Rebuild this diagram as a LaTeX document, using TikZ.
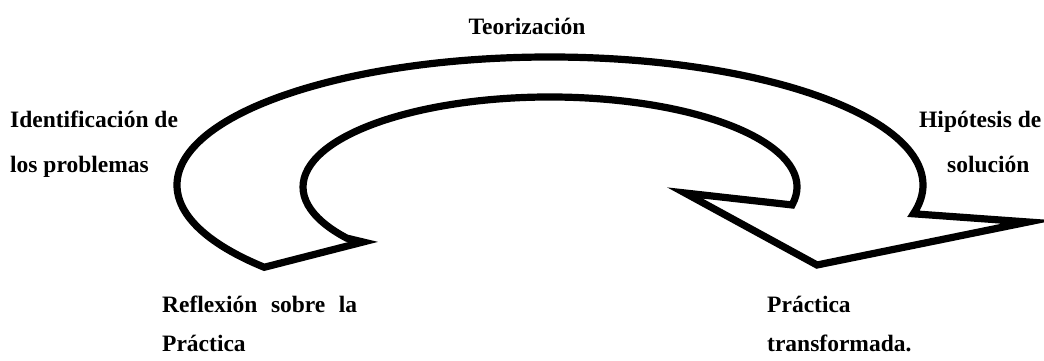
\documentclass[tikz,border=0pt]{standalone}
\usepackage{fontspec}
\setmainfont{Liberation Serif}
\usetikzlibrary{calc}

\tikzset{lbl/.style={font=\fontsize{23.5}{28}\selectfont\bfseries,inner sep=0pt}}

\begin{document}
\begin{tikzpicture}[x=1pt,y=1pt]
\useasboundingbox (0,0) rectangle (1044,361);
\coordinate (oc) at (550,176);
\coordinate (ic) at (550,174);
% curved arrow
\draw[line width=7.2pt,fill=white] ($(oc)+(220:373 and 128)$)
  arc[start angle=220,end angle=-13,x radius=373,y radius=128]
  -- (1028,139) -- (817,96) -- (685,168) -- ($(ic)+(-11.5:247 and 90)$)
  arc[start angle=-11.5,end angle=214.6,x radius=247,y radius=90]
  -- (363,119) -- cycle;

\node[lbl,anchor=base] (teo) at (527,326) {Teorización};
\node[lbl,anchor=base west] (ident) at (10,233) {Identificación de};
\node[lbl,anchor=base west] (probl) at (10,188) {los problemas};
\node[lbl,anchor=base west] (hipo) at (919,233) {Hipótesis de};
\node[lbl,anchor=base west] (soluc) at (947,188) {solución};
\node[lbl,anchor=base west] (refl) at (162,48) {\makebox[195pt][s]{Reflexión sobre la}};
\node[lbl,anchor=base west] (refpr) at (162,9) {Práctica};
\node[lbl,anchor=base west] (pract) at (767,48) {Práctica};
\node[lbl,anchor=base west] (transf) at (767,9) {transformada.};
\end{tikzpicture}
\end{document}
